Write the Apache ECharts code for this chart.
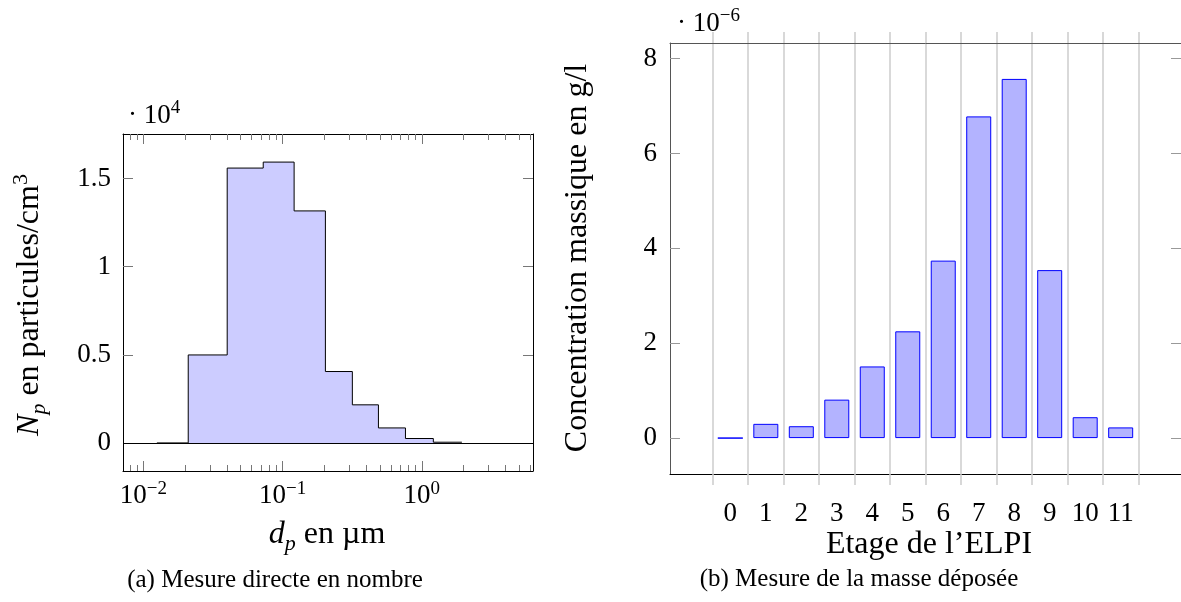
<!DOCTYPE html>
<html>
<head>
<meta charset="utf-8">
<script src="https://cdn.jsdelivr.net/npm/echarts@6/dist/echarts.min.js"></script>
<style>
html, body { margin: 0; padding: 0; background: #fff; }
#chart { width: 1181px; height: 602px; }
</style>
</head>
<body>
<div id="chart"></div>
<script>
// (a) mesure directe en nombre
var bordsBins = [0.0125, 0.0210, 0.0400, 0.0726, 0.121, 0.203, 0.317, 0.488, 0.763, 1.21, 1.94];
var nombreParticules = [0, 4990, 15590, 15930, 13160, 4050, 2160, 850, 250, 40];
var ticksDecades = [0.01, 0.1, 1];
var ticksMineurs = [0.008, 0.009, 0.02, 0.03, 0.04, 0.05, 0.06, 0.07, 0.08, 0.09,
    0.2, 0.3, 0.4, 0.5, 0.6, 0.7, 0.8, 0.9, 2, 3, 4, 5, 6];
var ticksNombre = [0, 5000, 10000, 15000];

// (b) masse deposee par etage
var etages = [0, 1, 2, 3, 4, 5, 6, 7, 8, 9, 10, 11];
var masseDeposee = [0, 0.30e-6, 0.25e-6, 0.81e-6, 1.51e-6, 2.25e-6, 3.74e-6, 6.78e-6, 7.57e-6, 3.54e-6, 0.44e-6, 0.225e-6];
var limitesEtages = [-0.5, 0.5, 1.5, 2.5, 3.5, 4.5, 5.5, 6.5, 7.5, 8.5, 9.5, 10.5, 11.5];
var ticksMasse = [0, 2e-6, 4e-6, 6e-6, 8e-6];

var police = 'Liberation Serif';
var tailleTick = 27;
var tailleTitre = 32;
var tailleLegende = 25;

var chart = echarts.init(document.getElementById('chart'));

function richTexte(taille) {
    return {
        it: { fontFamily: police, fontSize: taille, fontStyle: 'italic' },
        sub: { fontFamily: police, fontSize: Math.round(taille * 0.7), fontStyle: 'italic', verticalAlign: 'bottom', lineHeight: Math.round(taille * 0.7) },
        sup: { fontFamily: police, fontSize: Math.round(taille * 0.7), verticalAlign: 'top', lineHeight: Math.round(taille * 0.7) }
    };
}

function texte(x, y, contenu, taille, rotation, align) {
    return {
        type: 'text',
        x: x,
        y: y,
        rotation: rotation || 0,
        style: {
            text: contenu,
            fontFamily: police,
            fontSize: taille,
            lineHeight: Math.round(taille * 1.25),
            fill: '#000',
            align: align || 'center',
            verticalAlign: 'middle',
            rich: richTexte(taille)
        }
    };
}

var serieNombre = bordsBins.map(function (b, i) {
    return [b, i < nombreParticules.length ? nombreParticules[i] : 0];
});
var serieMasse = etages.map(function (e, i) {
    return [e, masseDeposee[i]];
});

var axeLogBase = {
    gridIndex: 0,
    type: 'log',
    logBase: 10,
    min: 0.00714,
    max: 6.29,
    axisLine: { show: false, onZero: false },
    axisLabel: { show: false },
    splitLine: { show: false }
};

chart.setOption({
    animation: false,
    grid: [
        { left: 123, right: 648, top: 134, bottom: 131 },
        { left: 670, right: -7, top: 43, bottom: 128 }
    ],
    xAxis: [
        Object.assign({}, axeLogBase, {
            position: 'bottom',
            axisLine: { show: true, onZero: false, lineStyle: { color: '#000', width: 1 } },
            axisTick: { show: true, inside: true, length: 10, customValues: ticksDecades, lineStyle: { color: '#777' } },
            axisLabel: {
                show: true,
                customValues: ticksDecades,
                margin: 9,
                fontFamily: police,
                fontSize: tailleTick,
                lineHeight: 32,
                color: '#000',
                formatter: function (v) {
                    var e = Math.round(Math.log10(v));
                    return '10{sup|' + String(e).replace('-', '\u2212') + '}';
                },
                rich: richTexte(tailleTick)
            }
        }),
        Object.assign({}, axeLogBase, {
            position: 'bottom',
            axisTick: { show: true, inside: true, length: 6, customValues: ticksMineurs, lineStyle: { color: '#777' } }
        }),
        Object.assign({}, axeLogBase, {
            position: 'top',
            axisLine: { show: true, onZero: false, lineStyle: { color: '#000', width: 1 } },
            axisTick: { show: true, inside: true, length: 10, customValues: ticksDecades, lineStyle: { color: '#777' } }
        }),
        Object.assign({}, axeLogBase, {
            position: 'top',
            axisTick: { show: true, inside: true, length: 6, customValues: ticksMineurs, lineStyle: { color: '#777' } }
        }),
        {
            gridIndex: 1,
            type: 'value',
            min: -1.7,
            max: 12.7,
            position: 'bottom',
            axisLine: { show: true, onZero: false, lineStyle: { color: '#000', width: 1 } },
            axisTick: { show: true, inside: false, length: 11, customValues: limitesEtages, lineStyle: { color: '#cccccc', width: 1.5 } },
            axisLabel: {
                customValues: etages,
                margin: 24,
                fontFamily: police,
                fontSize: tailleTick,
                lineHeight: 32,
                color: '#000'
            },
            splitLine: { show: true, lineStyle: { color: '#cccccc', width: 1.5 } }
        },
        {
            gridIndex: 1,
            type: 'value',
            min: -1.7,
            max: 12.7,
            position: 'top',
            axisLine: { show: true, onZero: false, lineStyle: { color: '#555', width: 1 } },
            axisTick: { show: true, inside: false, length: 11, customValues: limitesEtages, lineStyle: { color: '#cccccc', width: 1.5 } },
            axisLabel: { show: false },
            splitLine: { show: false }
        }
    ],
    yAxis: [
        {
            gridIndex: 0,
            type: 'value',
            min: -1593,
            max: 17523,
            position: 'left',
            axisLine: { show: true, onZero: false, lineStyle: { color: '#000', width: 1 } },
            axisTick: { show: true, inside: true, length: 10, customValues: ticksNombre, lineStyle: { color: '#777' } },
            axisLabel: {
                customValues: ticksNombre,
                margin: 12,
                fontFamily: police,
                fontSize: tailleTick,
                color: '#000',
                formatter: function (v) { return String(v / 10000); }
            },
            splitLine: { show: false }
        },
        {
            gridIndex: 0,
            type: 'value',
            min: -1593,
            max: 17523,
            position: 'right',
            axisLine: { show: true, onZero: false, lineStyle: { color: '#000', width: 1 } },
            axisTick: { show: true, inside: true, length: 10, customValues: ticksNombre, lineStyle: { color: '#777' } },
            axisLabel: { show: false },
            splitLine: { show: false }
        },
        {
            gridIndex: 1,
            type: 'value',
            min: -0.757e-6,
            max: 8.327e-6,
            position: 'left',
            axisLine: { show: true, onZero: false, lineStyle: { color: '#555', width: 1 } },
            axisTick: { show: true, inside: true, length: 10, customValues: ticksMasse, lineStyle: { color: '#999' } },
            axisLabel: {
                customValues: ticksMasse,
                margin: 13,
                fontFamily: police,
                fontSize: tailleTick,
                color: '#000',
                formatter: function (v) { return String(Math.round(v * 1e6)); }
            },
            splitLine: { show: false }
        },
        {
            gridIndex: 1,
            type: 'value',
            min: -0.757e-6,
            max: 8.327e-6,
            position: 'right',
            axisLine: { show: true, onZero: false, lineStyle: { color: '#555', width: 1 } },
            axisTick: { show: true, inside: true, length: 10, customValues: ticksMasse, lineStyle: { color: '#999' } },
            axisLabel: { show: false },
            splitLine: { show: false }
        }
    ],
    series: [
        {
            type: 'line',
            xAxisIndex: 0,
            yAxisIndex: 0,
            step: 'end',
            showSymbol: false,
            symbol: 'none',
            data: serieNombre,
            lineStyle: { color: '#000', width: 1 },
            areaStyle: { color: '#ccccff', opacity: 1 },
            markLine: {
                silent: true,
                symbol: 'none',
                label: { show: false },
                lineStyle: { color: '#000', type: 'solid', width: 1 },
                data: [{ yAxis: 0 }]
            }
        },
        {
            type: 'bar',
            xAxisIndex: 4,
            yAxisIndex: 2,
            barWidth: 25,
            data: serieMasse,
            itemStyle: { color: '#b3b3ff', borderColor: '#0000ff', borderWidth: 1 }
        }
    ],
    graphic: [
        texte(128, 116, '\u00b7 10{sup|4}', tailleTick, 0, 'left'),
        texte(30, 305, '{it|N}{sub|p} en particules/cm{sup|3}', tailleTitre, Math.PI / 2),
        texte(327, 535, '{it|d}{sub|p} en \u00b5m', tailleTitre),
        texte(275, 580, '(a) Mesure directe en nombre', tailleLegende),
        texte(677, 24, '\u00b7 10{sup|\u22126}', tailleTick, 0, 'left'),
        texte(578, 258, 'Concentration massique en g/l', tailleTitre, Math.PI / 2),
        texte(929, 545, 'Etage de l\u2019ELPI', tailleTitre),
        texte(859, 579, '(b) Mesure de la masse d\u00e9pos\u00e9e', tailleLegende)
    ]
});

window.addEventListener('resize', function () {
    chart.resize();
});
</script>
</body>
</html>
